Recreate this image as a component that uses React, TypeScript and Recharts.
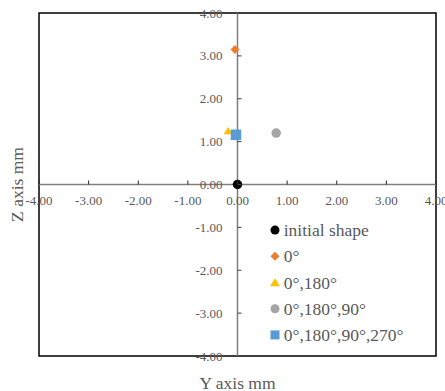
import React from 'react';
import {
  ScatterChart,
  Scatter,
  XAxis,
  YAxis,
  ReferenceLine,
  ReferenceArea,
  Legend,
} from 'recharts';

// series (Y axis / Z axis, mm)
const SERIES_NAMES = ['initial shape', '0°', '0°,180°', '0°,180°,90°', '0°,180°,90°,270°'];
const Y_VALUES = [0, -0.05, -0.19, 0.78, -0.03];
const Z_VALUES = [0, 3.15, 1.25, 1.2, 1.16];
const SHAPES = ['circle', 'diamond', 'triangle', 'circle', 'square'];
const COLORS = ['#000000', '#ED7D31', '#FFC000', '#A5A5A5', '#5B9BD5'];
const TICKS = [-4, -3, -2, -1, 0, 1, 2, 3, 4];

const W = 445;
const H = 391;
// axes take 1px each (a zero-sized axis is not drawn at all)
const MARGIN = { top: 13, right: 9, bottom: 34, left: 38 };
const PLOT_W = W - MARGIN.left - 1 - MARGIN.right;
const PLOT_H = H - MARGIN.top - MARGIN.bottom - 1;
const ZERO_X = MARGIN.left + 1 + PLOT_W / 2;
const ZERO_Y = MARGIN.top + PLOT_H / 2;

const FONT = '"Liberation Serif", "Times New Roman", serif';
const TEXT = '#595959';
const ROW_H = 26.2;

const seriesData = SERIES_NAMES.map((name, i) => ({
  name,
  points: [{ y: Y_VALUES[i], z: Z_VALUES[i] }],
}));

function Marker({ kind, cx, cy, color, s }: { kind: string; cx: number; cy: number; color: string; s: number }) {
  if (kind === 'circle') return <circle cx={cx} cy={cy} r={s / 2} fill={color} />;
  if (kind === 'diamond') {
    const h = s / 2;
    return <path d={`M${cx},${cy - h}L${cx + h},${cy}L${cx},${cy + h}L${cx - h},${cy}Z`} fill={color} />;
  }
  if (kind === 'triangle') {
    const h = s / 2;
    return <path d={`M${cx},${cy - h * 0.85}L${cx + h},${cy + h * 0.75}L${cx - h},${cy + h * 0.75}Z`} fill={color} />;
  }
  return <rect x={cx - s / 2} y={cy - s / 2} width={s} height={s} fill={color} />;
}

const PLOT_SIZES = [9.5, 9, 9, 9.5, 10.5];

const XTick = (props: any) => {
  const { x, payload } = props;
  return (
    <g>
      <line x1={x} x2={x} y1={ZERO_Y} y2={ZERO_Y - 4} stroke="#262626" strokeWidth={1} />
      <text x={x} y={ZERO_Y + 16} textAnchor="middle" dominantBaseline="central" fontSize={13} fontFamily={FONT} fill={TEXT}>
        {Number(payload.value).toFixed(2)}
      </text>
    </g>
  );
};

const YTick = (props: any) => {
  const { y, payload } = props;
  return (
    <g>
      <line x1={ZERO_X} x2={ZERO_X + 4} y1={y} y2={y} stroke="#404040" strokeWidth={1} />
      <text x={ZERO_X - 15} y={y} textAnchor="end" dominantBaseline="central" fontSize={13} fontFamily={FONT} fill={TEXT}>
        {Number(payload.value).toFixed(2)}
      </text>
    </g>
  );
};

const renderLegend = (props: any) => {
  const items = [...(props.payload || [])].sort(
    (a: any, b: any) => SERIES_NAMES.indexOf(a.value) - SERIES_NAMES.indexOf(b.value)
  );
  return (
    <svg width={170} height={ROW_H * items.length} style={{ display: 'block' }}>
      {items.map((entry: any, i: number) => {
        const idx = SERIES_NAMES.indexOf(entry.value);
        const cy = ROW_H * i + ROW_H / 2;
        return (
          <g key={i}>
            <Marker kind={SHAPES[idx]} cx={6} cy={cy} color={COLORS[idx]} s={idx === 2 ? 10 : 9} />
            <text x={14.7} y={cy} dominantBaseline="central" fontSize={17.5} fontFamily={FONT} fill={TEXT}>
              {entry.value}
            </text>
          </g>
        );
      })}
    </svg>
  );
};

export default function App() {
  return (
    <div style={{ position: 'absolute', left: 0, top: 0, width: W, height: H, background: '#fff' }}>
      <ScatterChart width={W} height={H} margin={MARGIN}>
        <XAxis
          type="number"
          dataKey="y"
          domain={[-4, 4]}
          ticks={TICKS}
          height={1}
          axisLine={false}
          tickLine={false}
          tick={XTick}
          interval={0}
          label={{
            content: (p: any) => {
              const vb = p.viewBox;
              return (
                <text x={vb.x + vb.width / 2} y={vb.y + 26.5} textAnchor="middle" dominantBaseline="central" fontSize={17.5} fontFamily={FONT} fill={TEXT}>
                  Y axis mm
                </text>
              );
            },
          }}
        />
        <YAxis
          type="number"
          dataKey="z"
          domain={[-4, 4]}
          ticks={TICKS}
          width={1}
          axisLine={false}
          tickLine={false}
          tick={YTick}
          interval={0}
          label={{
            content: (p: any) => {
              const vb = p.viewBox;
              const cx = vb.x + vb.width - 22;
              const cy = vb.y + vb.height / 2;
              return (
                <text x={cx} y={cy} transform={`rotate(-90 ${cx} ${cy})`} textAnchor="middle" dominantBaseline="central" fontSize={17.5} fontFamily={FONT} fill={TEXT}>
                  Z axis mm
                </text>
              );
            },
          }}
        />
        <ReferenceArea x1={-4} x2={4} y1={-4} y2={4} fill="none" fillOpacity={0} stroke="#000000" strokeWidth={1.5} />
        <ReferenceLine x={0} stroke="#7F7F7F" strokeWidth={1.5} />
        <ReferenceLine y={0} stroke="#7F7F7F" strokeWidth={1.5} />
        {seriesData.map((s, i) => (
          <Scatter
            key={s.name}
            name={s.name}
            data={s.points}
            fill={COLORS[i]}
            isAnimationActive={false}
            shape={(p: any) => <Marker kind={SHAPES[i]} cx={p.cx} cy={p.cy} color={COLORS[i]} s={PLOT_SIZES[i]} />}
          />
        ))}
        <Legend
          layout="vertical"
          align="center"
          verticalAlign="middle"
          content={renderLegend}
          wrapperStyle={{ position: 'absolute', left: 269.3, top: 216.9, width: 170 }}
        />
      </ScatterChart>
    </div>
  );
}
